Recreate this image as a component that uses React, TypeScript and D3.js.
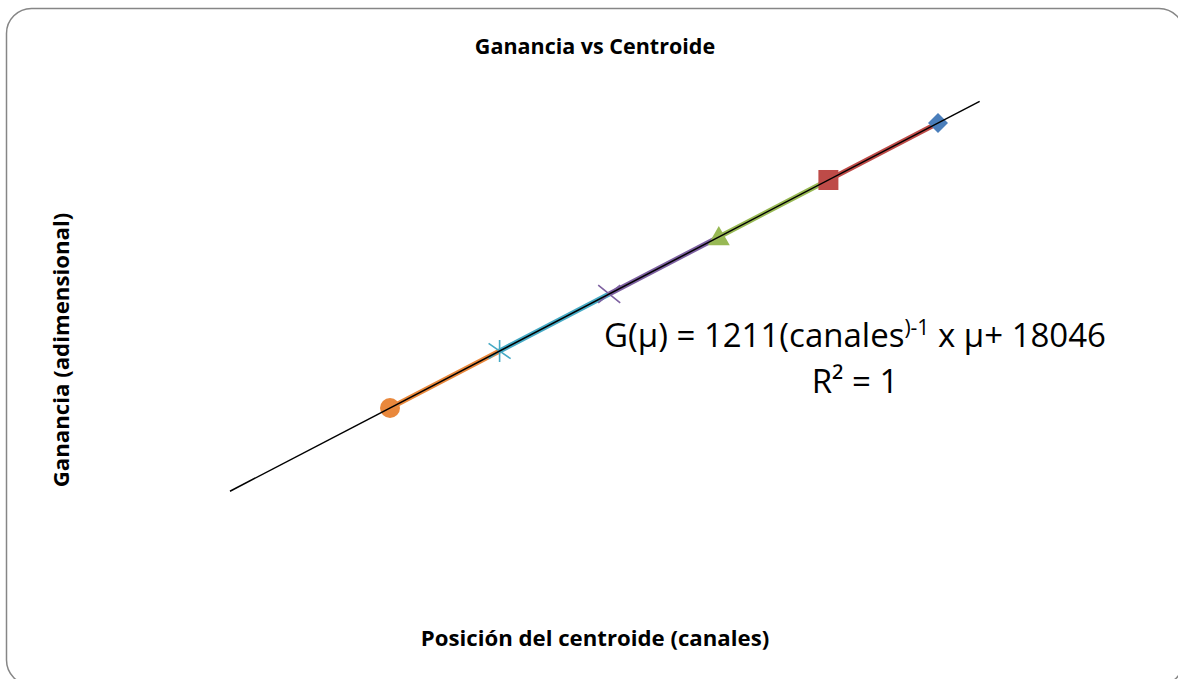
import React from "react";
import * as d3 from "d3";

// Data: centroid position (channels) and gain for each series (hidden axes)
const seriesNames = ["S1", "S2", "S3", "S4", "S5", "S6"];
const centroid = [700, 600, 500, 400, 300, 200];
const gain = [865746, 744646, 623546, 502446, 381346, 260246];
const seriesColors = ["#4A7EBB", "#BE4B48", "#98B954", "#7D60A0", "#46AAC5", "#E9883C"];
const markerShapes = ["diamond", "square", "triangle", "x", "star", "circle"];
const trendSlope = 1211;
const trendIntercept = 18046;
const trendExtent = [54, 738];
const xDomain = [0, 800];
const yDomain = [0, 1000000];

const W = 1178;
const H = 679;
const FONT = "'Open Sans', 'Liberation Sans', sans-serif";

function Marker({ shape, x, y, color }: { shape: string; x: number; y: number; color: string }) {
  if (shape === "diamond") {
    const s = 10;
    return <path d={`M${x},${y - s}L${x + s},${y}L${x},${y + s}L${x - s},${y}Z`} fill={color} />;
  }
  if (shape === "square") {
    const s = 10;
    return <rect x={x - s} y={y - s} width={2 * s} height={2 * s} fill={color} />;
  }
  if (shape === "triangle") {
    const s = 11;
    return <path d={`M${x},${y - s}L${x + s},${y + s * 0.75}L${x - s},${y + s * 0.75}Z`} fill={color} />;
  }
  if (shape === "x") {
    const s = 11;
    return (
      <path
        d={`M${x - s},${y - s * 0.8}L${x + s},${y + s * 0.8}M${x - s},${y + s * 0.8}L${x + s},${y - s * 0.8}`}
        stroke={color}
        strokeWidth={1.6}
        fill="none"
      />
    );
  }
  if (shape === "star") {
    const s = 11;
    return (
      <path
        d={`M${x - s},${y - s * 0.7}L${x + s},${y + s * 0.7}M${x - s},${y + s * 0.7}L${x + s},${y - s * 0.7}M${x},${y - s}L${x},${y + s}`}
        stroke={color}
        strokeWidth={1.6}
        fill="none"
      />
    );
  }
  return <circle cx={x} cy={y} r={10} fill={color} />;
}

export default function App() {
  const x = d3.scaleLinear().domain(xDomain).range([170.8, 1047.6]);
  const y = d3.scaleLinear().domain(yDomain).range([530.5, 59.8]);
  const line = d3
    .line<[number, number]>()
    .x((d) => x(d[0]))
    .y((d) => y(d[1]));

  const trendPts: [number, number][] = trendExtent.map((c) => [c, trendSlope * c + trendIntercept]);

  return (
    <svg
      width={W}
      height={H}
      style={{ position: "absolute", left: 0, top: 0, display: "block", background: "#fff" }}
    >
      <rect x={6.5} y={8.5} width={1177.5} height={676.5} rx={25} ry={25} fill="#fff" stroke="#868686" strokeWidth={1.5} />

      <text x={595} y={54} textAnchor="middle" fontFamily={FONT} fontWeight="bold" fontSize={21.5} fill="#000">
        Ganancia vs Centroide
      </text>
      <text x={595} y={646} textAnchor="middle" fontFamily={FONT} fontWeight="bold" fontSize={22.2} fill="#000">
        Posición del centroide (canales)
      </text>
      <text
        transform="translate(69,350) rotate(-90)"
        textAnchor="middle"
        fontFamily={FONT}
        fontWeight="bold"
        fontSize={22.2}
        fill="#000"
      >
        Ganancia (adimensional)
      </text>

      {seriesNames.map((name, i) =>
        i === 0 ? null : (
          <path
            key={"seg" + name}
            d={line([
              [centroid[i - 1], gain[i - 1]],
              [centroid[i], gain[i]],
            ]) as string}
            stroke={seriesColors[i]}
            strokeWidth={5}
            fill="none"
          />
        )
      )}

      {seriesNames.map((name, i) => (
        <Marker key={"m" + name} shape={markerShapes[i]} x={x(centroid[i])} y={y(gain[i])} color={seriesColors[i]} />
      ))}

      <path d={line(trendPts) as string} stroke="#000" strokeWidth={1.5} fill="none" />

      <text x={855} y={347} textAnchor="middle" fontFamily={FONT} fontSize={33} fill="#000">
        G(μ) = 1211(canales<tspan dy={-12} fontSize={21}>)-1</tspan>
        <tspan dy={12}> x μ+ 18046</tspan>
      </text>
      <text x={855} y={393} textAnchor="middle" fontFamily={FONT} fontSize={33} fill="#000">
        R² = 1
      </text>
    </svg>
  );
}
